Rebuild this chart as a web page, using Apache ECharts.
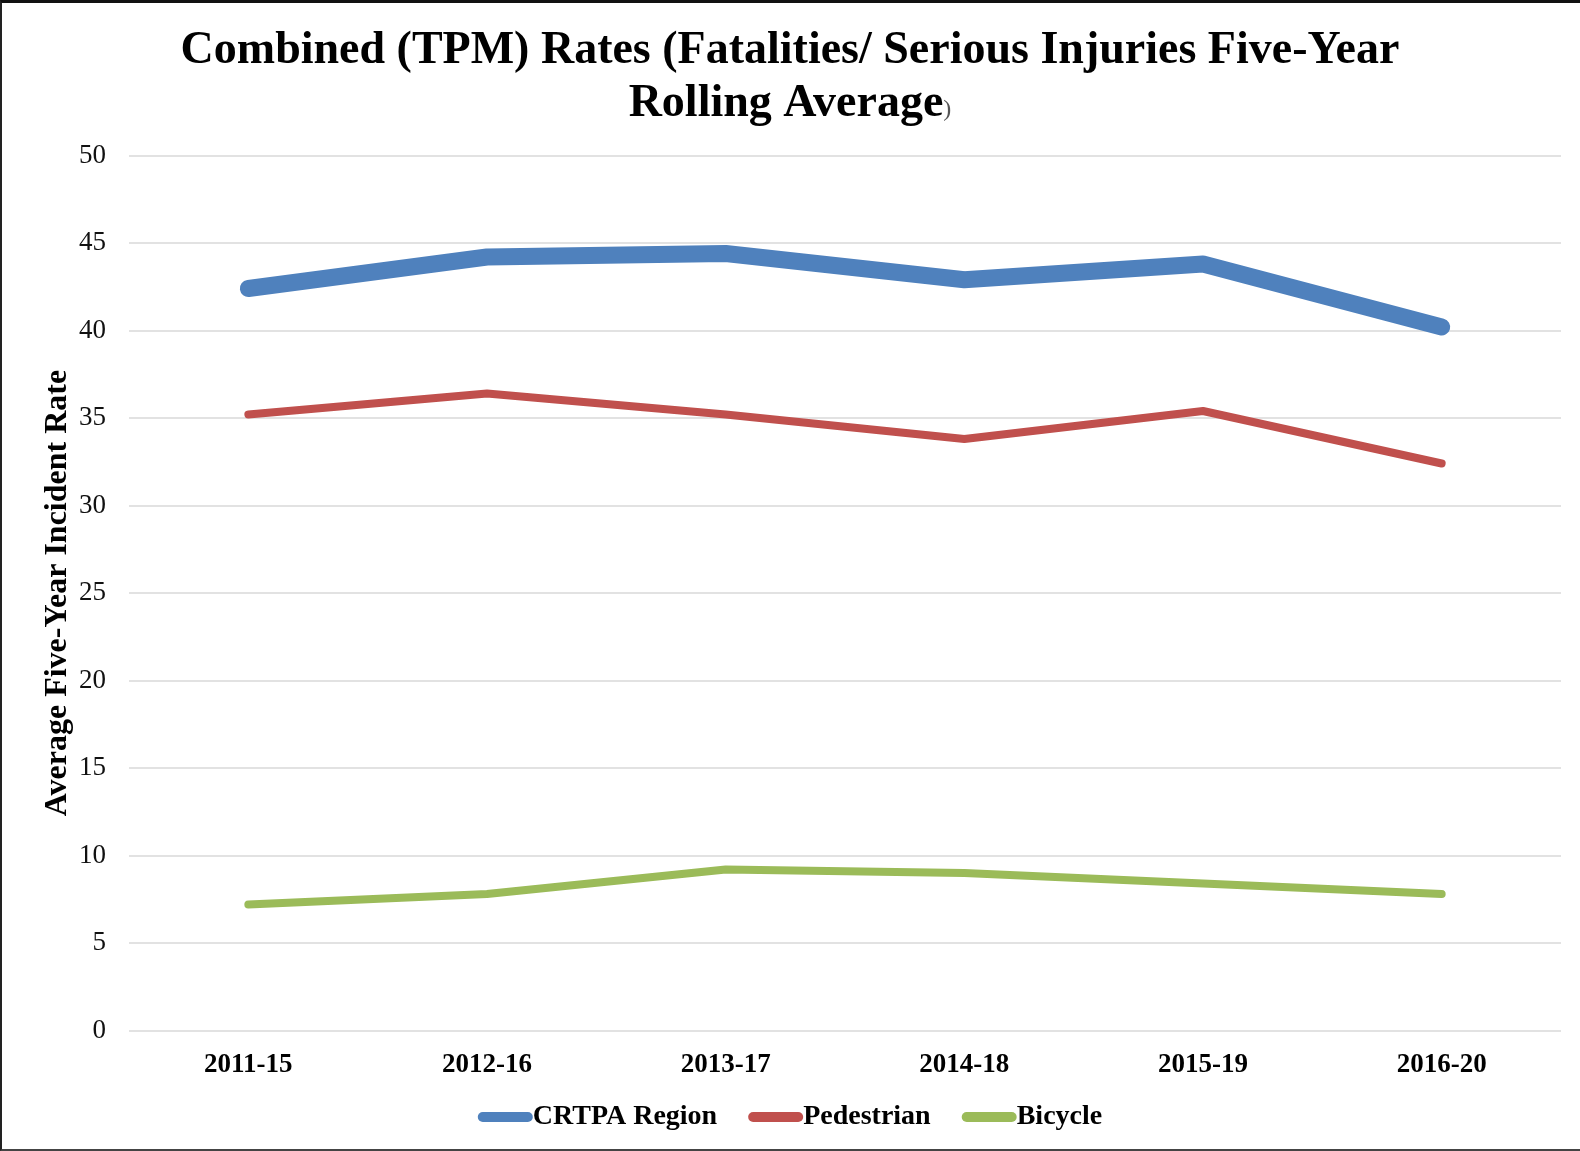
<!DOCTYPE html>
<html>
<head>
<meta charset="utf-8">
<script src="https://cdn.jsdelivr.net/npm/echarts@6/dist/echarts.min.js"></script>
<style>
html,body{margin:0;padding:0;background:#fff;}
#chart{position:absolute;left:0;top:0;width:1580px;height:1151px;}
#frame{position:absolute;left:0;top:0;width:1580px;height:1151px;box-sizing:border-box;border-top:3px solid #111;border-left:2px solid #222;border-bottom:2px solid #444;pointer-events:none;}
</style>
</head>
<body>
<div id="chart"></div>
<div id="frame"></div>
<script>
const categories = ['2011-15', '2012-16', '2013-17', '2014-18', '2015-19', '2016-20'];
const crtpaRegion = [42.4, 44.2, 44.4, 42.9, 43.8, 40.2];
const pedestrian = [35.2, 36.4, 35.2, 33.8, 35.4, 32.4];
const bicycle = [7.2, 7.8, 9.2, 9.0, 8.4, 7.8];
const yTicks = [0, 5, 10, 15, 20, 25, 30, 35, 40, 45, 50];

const serif = '"Liberation Serif", "Times New Roman", serif';
const capsule = 'path://M5,0 H50 A5,5 0 0 1 50,10 H5 A5,5 0 0 1 5,0 Z';

const chart = echarts.init(document.getElementById('chart'), null, {renderer: 'canvas'});
chart.setOption({
  backgroundColor: '#fff',
  animation: false,
  title: {
    text: 'Combined (TPM) Rates (Fatalities/ Serious Injuries Five-Year\nRolling Average{s|)}',
    left: 'center',
    top: 20,
    textStyle: {
      fontFamily: serif, fontWeight: 'bold', fontSize: 46, color: '#000', lineHeight: 53,
      rich: { s: { fontFamily: serif, fontSize: 24, color: '#555', fontWeight: 'normal', lineHeight: 24, verticalAlign: 'bottom', padding: [0, 0, 9, 0] } }
    }
  },
  grid: { left: 129, right: 19, top: 155.5, bottom: 120.5, containLabel: false },
  legend: {
    bottom: 15,
    left: 'center',
    itemWidth: 55,
    itemHeight: 10,
    itemGap: 31,
    icon: capsule,
    textStyle: { fontFamily: serif, fontWeight: 'bold', fontSize: 28, color: '#000', padding: [0, 0, 0, -5] },
    data: ['CRTPA Region', 'Pedestrian', 'Bicycle']
  },
  xAxis: {
    type: 'category',
    data: categories,
    boundaryGap: true,
    axisLine: { show: false },
    axisTick: { show: false },
    axisLabel: { fontFamily: serif, fontWeight: 'bold', fontSize: 27, color: '#000', margin: 21 }
  },
  yAxis: {
    type: 'value',
    min: yTicks[0],
    max: yTicks[yTicks.length - 1],
    interval: 5,
    name: 'Average Five-Year Incident Rate',
    nameLocation: 'middle',
    nameGap: 55,
    nameMoveOverlap: false,
    nameTextStyle: { fontFamily: serif, fontWeight: 'bold', fontSize: 32, color: '#000' },
    axisLine: { show: false },
    axisTick: { show: false },
    axisLabel: { fontFamily: serif, fontSize: 27, color: '#111', margin: 23 },
    splitLine: { lineStyle: { color: '#d9d9d9', width: 1.5 } }
  },
  series: [
    { name: 'CRTPA Region', type: 'line', data: crtpaRegion, showSymbol: false, symbol: 'none',
      itemStyle: { color: '#4f81bd' }, lineStyle: { color: '#4f81bd', width: 17, cap: 'round', join: 'round' }, z: 3 },
    { name: 'Pedestrian', type: 'line', data: pedestrian, showSymbol: false, symbol: 'none',
      itemStyle: { color: '#c0504d' }, lineStyle: { color: '#c0504d', width: 8, cap: 'round', join: 'round' }, z: 2 },
    { name: 'Bicycle', type: 'line', data: bicycle, showSymbol: false, symbol: 'none',
      itemStyle: { color: '#9bbb59' }, lineStyle: { color: '#9bbb59', width: 8, cap: 'round', join: 'round' }, z: 2 }
  ]
});
</script>
</body>
</html>
